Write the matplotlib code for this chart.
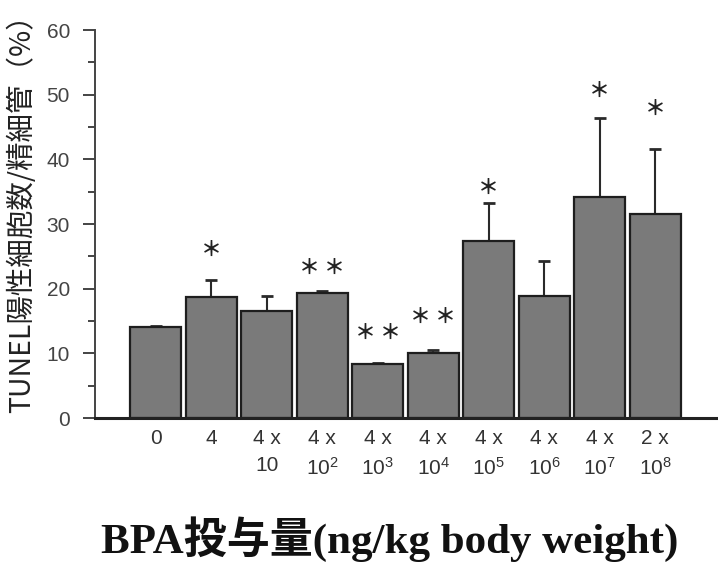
import numpy as np
import matplotlib
matplotlib.use("Agg")
import matplotlib.pyplot as plt


# ---------- data ----------

doses = ["0", "4", "4 x\n10", "4 x\n10$^{2}$", "4 x\n10$^{3}$", "4 x\n10$^{4}$",
         "4 x\n10$^{5}$", "4 x\n10$^{6}$", "4 x\n10$^{7}$", "2 x\n10$^{8}$"]
means = [14.0, 18.7, 16.5, 19.4, 8.35, 10.05, 27.3, 18.8, 34.2, 31.6]
errs = [0.3, 2.7, 2.4, 0.3, 0.2, 0.45, 6.0, 5.5, 12.2, 10.0]
n_stars = [0, 1, 0, 2, 2, 2, 1, 0, 1, 1]
star_y = [0, 26.1, 0, 23.3, 13.2, 15.7, 35.7, 0, 50.6, 47.8]

y_label = "TUNEL陽性細胞数/精細管（%）"
x_label = "BPA投与量(ng/kg body weight)"

tick_font = "Liberation Sans"
cjk = "Noto Sans CJK JP"

plt.rcParams["mathtext.fontset"] = "custom"
plt.rcParams["mathtext.rm"] = tick_font
plt.rcParams["mathtext.it"] = tick_font

fig = plt.figure(figsize=(7.18, 5.68), dpi=100)
ax = fig.add_axes([95 / 718, (568 - 418) / 568, 1 - 95 / 718, (418 - 30) / 568])

x = np.arange(len(means))
ax.bar(x, means, width=0.92, color="#7a7a7a", edgecolor="#1e1e1e", linewidth=1.6, zorder=2)
ax.errorbar(x, means, yerr=[np.zeros(len(errs)), errs], fmt="none",
            ecolor="#2a2a2a", elinewidth=1.5, capsize=4, capthick=2, zorder=1)

# significance stars, ~25 px apart when doubled
for xi, n, ys in zip(x, n_stars, star_y):
    offsets = {1: [0], 2: [-9, 9]}.get(n, [])
    for dx in offsets:
        ax.annotate("＊", (xi, ys), xytext=(dx, 0), textcoords="offset points",
                    ha="center", va="center", fontsize=15, fontweight="bold",
                    family=[cjk, "DejaVu Sans"], color="#222222")

ax.set_xlim(-1.09, 10.13)
ax.set_ylim(0, 60)
ax.set_yticks(np.arange(0, 61, 10))
ax.set_yticks(np.arange(5, 60, 10), minor=True)
ax.set_xticks(x)
ax.set_xticklabels(doses, family=tick_font, fontsize=15, color="#333333", linespacing=1.5,
                   va="top")
for lab in ax.get_yticklabels():
    lab.set_family(tick_font)
    lab.set_fontsize(15)
    lab.set_color("#444444")

ax.tick_params(axis="x", length=0, pad=8)
ax.tick_params(axis="y", which="major", length=9, width=1.4, color="#444444", pad=9)
ax.tick_params(axis="y", which="minor", length=5, width=1.4, color="#444444")

for s in ["top", "right"]:
    ax.spines[s].set_visible(False)
ax.spines["left"].set_linewidth(1.4)
ax.spines["left"].set_color("#444444")
ax.spines["bottom"].set_linewidth(2.2)
ax.spines["bottom"].set_color("#222222")

fig.text(22 / 718, (568 - 207) / 568, y_label, rotation=90, ha="center", va="center",
         fontsize=20.5, family=[cjk, "DejaVu Sans"], color="#222222")
fig.text(390 / 718, (568 - 539) / 568, x_label, ha="center", va="center",
         fontsize=31, fontweight="bold", family=["Liberation Serif", cjk], color="#111111")

fig.savefig("out.png", dpi=100)
